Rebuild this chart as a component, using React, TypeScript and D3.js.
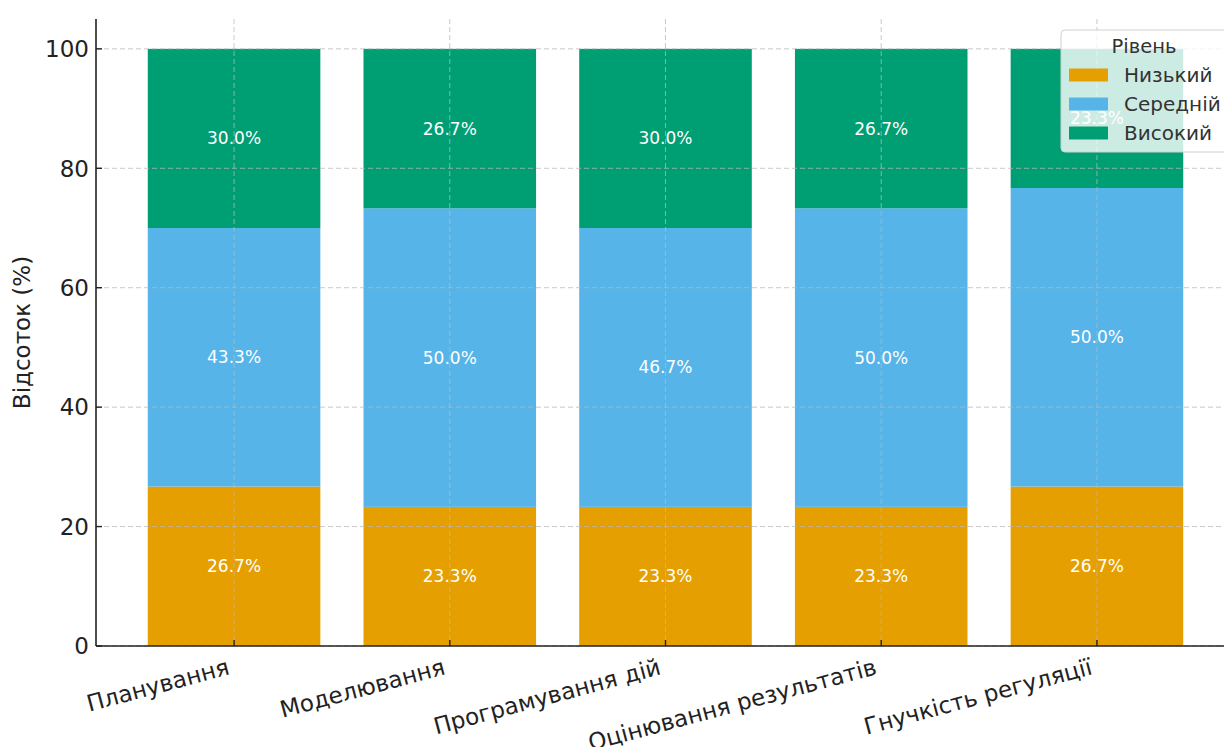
import * as d3 from "d3"

const categories = ["Планування", "Моделювання", "Програмування дій", "Оцінювання результатів", "Гнучкість регуляції"]
const levels = ["Низький", "Середній", "Високий"]
const low = [26.7, 23.3, 23.3, 23.3, 26.7]
const mid = [43.3, 50.0, 46.7, 50.0, 50.0]
const high = [30.0, 26.7, 30.0, 26.7, 23.3]
const colors = ["#E69F00", "#56B4E9", "#009E73"]
const yTicks = [0, 20, 40, 60, 80, 100]

const W = 1224
const H = 747

export default function App() {
  // axes box (matplotlib-like, right edge falls outside the picture)
  const left = 96, right = 1235, top = 19, bottom = 646
  const x = d3.scaleLinear().domain([-0.64, 4.64]).range([left, right])
  const y = d3.scaleLinear().domain([0, 105]).range([bottom, top])
  const bw = x(0.4) - x(-0.4)

  const rows = categories.map((c, i) => ({ c, i, v: [low[i], mid[i], high[i]] }))
  const stacked = d3.stack().keys([0, 1, 2]).value((d, k) => d.v[k])(rows)

  const gridStyle = { stroke: "#b8b8b8", strokeOpacity: 0.75, strokeWidth: 1, strokeDasharray: "5,3" }
  const font = "DejaVu Sans, sans-serif"

  return (
    <svg width={W} height={H} style={{ position: "absolute", left: 0, top: 0, background: "#fff" }} fontFamily={font}>
      {/* bars */}
      {stacked.map((s, k) => (
        <g key={k} fill={colors[k]}>
          {s.map((d, i) => (
            <rect key={i} x={x(i) - bw / 2} y={y(d[1])} width={bw} height={y(d[0]) - y(d[1])} />
          ))}
        </g>
      ))}

      {/* value labels */}
      {stacked.map((s, k) => (
        <g key={"l" + k} fill="#fff" fontSize={17} textAnchor="middle">
          {s.map((d, i) => (
            <text key={i} x={x(i)} y={y((d[0] + d[1]) / 2)} dy="0.35em">{(d[1] - d[0]).toFixed(1)}%</text>
          ))}
        </g>
      ))}

      {/* grid */}
      <g {...gridStyle}>
        {yTicks.map(t => <line key={t} x1={left} x2={right} y1={y(t)} y2={y(t)} />)}
        {categories.map((c, i) => <line key={c} x1={x(i)} x2={x(i)} y1={top} y2={bottom} />)}
      </g>

      {/* spines */}
      <g stroke="#222" strokeWidth={1.6}>
        <line x1={left} x2={left} y1={top} y2={bottom} />
        <line x1={left} x2={right} y1={bottom} y2={bottom} />
      </g>

      {/* y ticks */}
      <g fontSize={23} fill="#222" textAnchor="end">
        {yTicks.map(t => (
          <g key={t}>
            <line x1={left} x2={left + 6} y1={y(t)} y2={y(t)} stroke="#222" strokeWidth={1.4} />
            <text x={left - 7} y={y(t)} dy="0.36em">{t}</text>
          </g>
        ))}
      </g>

      {/* x ticks */}
      <g fontSize={23} fill="#222" textAnchor="end">
        {categories.map((c, i) => (
          <g key={c}>
            <line x1={x(i)} x2={x(i)} y1={bottom} y2={bottom - 6} stroke="#222" strokeWidth={1.4} />
            <text transform={`translate(${x(i) - 8},${bottom + 11}) rotate(-15)`} dy="0.76em">{c}</text>
          </g>
        ))}
      </g>

      <text transform={`translate(30,${(top + bottom) / 2}) rotate(-90)`} textAnchor="middle" fontSize={23} fill="#222">Відсоток (%)</text>

      {/* legend */}
      <g transform="translate(1061,30)">
        <rect x={0} y={0} width={200} height={122} rx={4} fill="#fff" fillOpacity={0.8} stroke="#d0d0d0" strokeWidth={1} />
        <text x={83} y={16} dy="0.35em" textAnchor="middle" fontSize={19.5} fill="#333">Рівень</text>
        {levels.map((l, k) => (
          <g key={l} transform={`translate(0,${45 + k * 29})`}>
            <rect x={8} y={-6.5} width={39} height={13} fill={colors[k]} />
            <text x={63} y={0} dy="0.35em" fontSize={20} fill="#333">{l}</text>
          </g>
        ))}
      </g>
    </svg>
  )
}
